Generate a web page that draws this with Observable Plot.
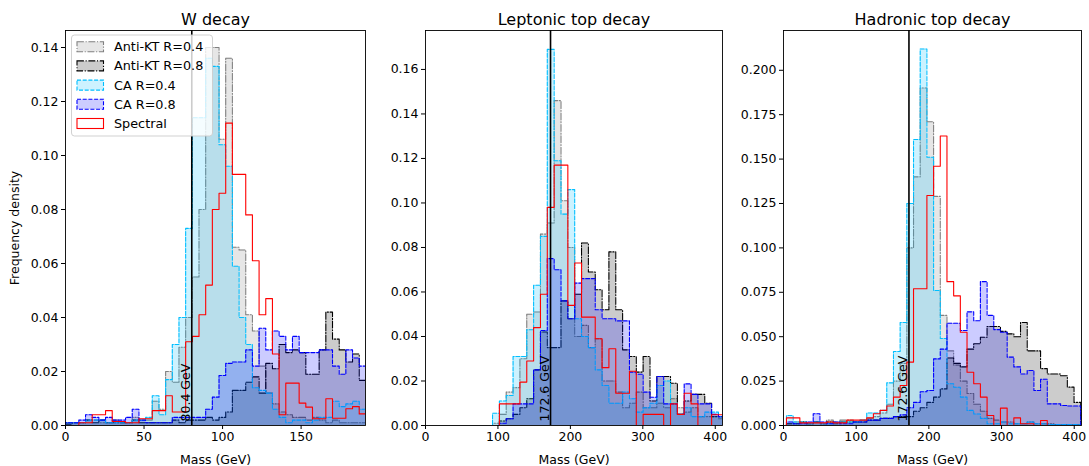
<!DOCTYPE html>
<html><head><meta charset="utf-8">
<script src="https://cdn.jsdelivr.net/npm/d3@7"></script>
<script src="https://cdn.jsdelivr.net/npm/@observablehq/plot@0.6"></script>
<style>
body{margin:0;background:#fff;}
#wrap{position:relative;width:1089px;height:466px;font-family:"DejaVu Sans",sans-serif;}
#wrap svg{position:absolute;top:0;overflow:visible;}
</style></head><body><div id="wrap"></div>
<script>
const seriesNames = ["Anti-KT R=0.4","Anti-KT R=0.8","CA R=0.4","CA R=0.8","Spectral"];
const panelTitles = ["W decay","Leptonic top decay","Hadronic top decay"];
const refMasses = [80.4, 172.6, 172.6];
const refLabels = ["80.4 GeV","172.6 GeV","172.6 GeV"];
const axisXLabel = "Mass (GeV)";
const axisYLabel = "Frequency density";

// W decay
const wEdges = [0,4.25,8.5,12.75,17,21.25,25.5,29.75,34,38.25,42.5,46.75,51,55.25,59.5,63.75,68,72.25,76.5,80.75,85,89.25,93.5,97.75,102,106.25,110.5,114.75,119,123.25,127.5,131.75,136,140.25,144.5,148.75,153,157.25,161.5,165.75,170,174.25,178.5,182.75,187,191.25];
const wAKT04 = [0.001,0.001,0.001,0.002,0.002,0.001,0.001,0.002,0.001,0.001,0.003,0.002,0.002,0.009,0.006,0.020,0.016,0.029,0.040,0.055,0.080,0.140,0.140,0.106,0.136,0.066,0.065,0.041,0.035,0.022,0.012,0.008,0.005,0.004,0.003,0.003,0.002,0.003,0.002,0.001,0.002,0.001,0.001,0.001,0.001];
const wAKT08 = [0.0005,0.001,0.001,0.002,0.001,0.002,0.001,0.001,0.001,0.001,0.002,0.001,0.001,0.001,0.001,0.001,0.002,0.001,0.002,0.002,0.002,0.003,0.002,0.003,0.005,0.013,0.013,0.016,0.018,0.012,0.023,0.021,0.030,0.027,0.028,0.027,0.019,0.019,0.028,0.042,0.032,0.028,0.0235,0.0265,0.0167];
const wCA04 = [0.001,0.001,0.001,0.002,0.002,0.002,0.001,0.001,0.001,0.001,0.002,0.002,0.003,0.011,0.004,0.017,0.030,0.040,0.073,0.114,0.114,0.136,0.133,0.104,0.096,0.059,0.040,0.030,0.014,0.013,0.012,0.006,0.003,0.001,0.002,0.002,0.001,0.002,0.003,0.003,0.009,0.007,0.008,0.009,0.006];
const wCA08 = [0.001,0.001,0.002,0.004,0.003,0.002,0.003,0.002,0.002,0.003,0.006,0.002,0.001,0.001,0.001,0.001,0.003,0.003,0.003,0.003,0.003,0.006,0.0105,0.0185,0.023,0.0235,0.0235,0.028,0.022,0.036,0.028,0.035,0.033,0.028,0.033,0.027,0.027,0.027,0.028,0.028,0.022,0.019,0.028,0.025,0.022];
const wSpec = [0,0,0.001,0.001,0.004,0.004,0.0055,0.0015,0.0015,0.001,0.001,0.0025,0.0025,0.0055,0.0055,0.011,0.005,0.005,0.031,0.033,0.041,0.052,0.080,0.086,0.112,0.093,0.093,0.078,0.061,0.041,0.047,0.0265,0.004,0.0157,0.0157,0.0083,0.0068,0.0025,0.0025,0.0099,0.0027,0.0027,0.0062,0.007,0.0043];

// Leptonic top decay
const lEdges = [7.5,16.95,26.4,35.85,45.3,54.75,64.2,73.65,83.1,92.55,102,111.45,120.9,130.35,139.8,149.25,158.7,168.15,177.6,187.05,196.5,205.95,215.4,224.85,234.3,243.75,253.2,262.65,272.1,281.55,291,300.45,309.9,319.35,328.8,338.25,347.7,357.15,366.6,376.05,385.5,394.95,404.4,413.85];
const lAKT04 = [0,0,0,0,0,0,0,0,0,0.001,0.005,0.015,0.017,0.030,0.050,0.051,0.086,0.091,0.146,0.101,0.080,0.040,0.045,0.035,0.039,0.020,0.020,0.015,0.008,0.010,0.015,0.008,0.008,0.010,0.008,0.012,0.008,0.006,0.008,0.004,0.004,0.004,0.003];
const lAKT08 = [0,0,0,0,0,0,0,0,0,0,0.002,0.003,0.005,0.008,0.012,0.025,0.042,0.035,0.035,0.056,0.048,0.059,0.082,0.069,0.061,0.052,0.078,0.052,0.034,0.031,0.024,0.031,0.011,0.022,0.022,0.019,0.005,0.011,0.014,0.014,0.010,0.004,0.004];
const lCA04 = [0,0,0,0,0,0,0,0,0,0.0055,0.011,0.0135,0.031,0.031,0.043,0.063,0.085,0.169,0.119,0.095,0.106,0.048,0.040,0.035,0.025,0.018,0.010,0.010,0.015,0.012,0.006,0.008,0.010,0.018,0.020,0.010,0.005,0.008,0.004,0.004,0.006,0.006,0.004];
const lCA08 = [0,0,0,0,0,0,0,0,0,0,0.001,0.003,0.0097,0.0097,0.0097,0.025,0.0427,0.075,0.070,0.056,0.048,0.064,0.066,0.066,0.052,0.048,0.048,0.047,0.047,0.024,0.023,0.015,0.0127,0.022,0.0097,0.0097,0.005,0.0187,0.014,0.0097,0.0097,0.005,0.004];
const lSpec = [0,0,0,0,0,0,0,0,0,0,0.0097,0.0097,0.0097,0.0195,0.029,0.044,0.059,0.098,0.117,0.117,0.054,0.073,0.0487,0.0487,0.039,0.026,0.0345,0.0145,0.0145,0.0244,0,0.005,0.005,0.005,0,0.0097,0.005,0.0145,0.0097,0,0,0.0048,0.0048];

// Hadronic top decay
const hEdges = [4.1,13.3,22.5,31.7,40.9,50.1,59.3,68.5,77.7,86.9,96.1,105.3,114.5,123.7,132.9,142.1,151.3,160.5,169.7,178.9,188.1,197.3,206.5,215.7,224.9,234.1,243.3,252.5,261.7,270.9,280.1,289.3,298.5,307.7,316.9,326.1,335.3,344.5,353.7,362.9,372.1,381.3,390.5,399.7,408.9];
const hAKT04 = [0.001,0.002,0.002,0.001,0.002,0.001,0.003,0.002,0.003,0.003,0.002,0.003,0.004,0.005,0.007,0.012,0.025,0.035,0.100,0.140,0.190,0.171,0.129,0.062,0.042,0.034,0.025,0.018,0.012,0.008,0.004,0.003,0.002,0.002,0.001,0.001,0.002,0.001,0.001,0.001,0.0005,0.0005,0.0005,0.0005];
const hAKT08 = [0.001,0.001,0.002,0.001,0.002,0.001,0.002,0.001,0.002,0.002,0.002,0.002,0.003,0.003,0.004,0.004,0.005,0.005,0.005,0.008,0.010,0.013,0.016,0.0206,0.038,0.035,0.033,0.043,0.046,0.0497,0.0557,0.0557,0.053,0.0516,0.050,0.058,0.042,0.042,0.032,0.029,0.029,0.028,0.0216,0.013];
const hCA04 = [0.0056,0.002,0.002,0.001,0.002,0.001,0.001,0.0015,0.002,0.002,0.002,0.003,0.007,0.007,0.0085,0.024,0.0417,0.058,0.125,0.161,0.212,0.151,0.076,0.049,0.0235,0.0215,0.016,0.0085,0.0065,0.004,0.001,0.001,0.002,0.001,0.001,0.001,0.002,0.001,0.001,0.0005,0.0005,0.0005,0.0005,0.0005];
const hCA08 = [0.002,0.001,0.001,0.002,0.0066,0.002,0.001,0.002,0.001,0.001,0.002,0.002,0.003,0.003,0.004,0.004,0.005,0.006,0.010,0.013,0.019,0.0197,0.0375,0.043,0.0576,0.0576,0.0535,0.064,0.059,0.081,0.062,0.054,0.0525,0.0385,0.033,0.029,0.031,0.0197,0.026,0.0122,0.0122,0.0113,0.011,0.011];
const hSpec = [0.0043,0.0043,0.0015,0.0015,0.0015,0.0015,0.002,0.0015,0.0015,0.003,0.003,0.003,0.0043,0.0066,0.0085,0.011,0.016,0.0225,0.0357,0.077,0.077,0.1295,0.146,0.163,0.081,0.073,0.0525,0.030,0.0235,0.016,0.0056,0,0.0098,0,0.0043,0.001,0.001,0,0.0028,0,0,0,0,0];

const wXTicks = [0,50,100,150];
const tXTicks = [0,100,200,300,400];
const wYTicks = [0,0.02,0.04,0.06,0.08,0.10,0.12,0.14];
const lYTicks = [0,0.02,0.04,0.06,0.08,0.10,0.12,0.14,0.16];
const hYTicks = [0,0.025,0.05,0.075,0.10,0.125,0.15,0.175,0.20];

const seriesStyles = [
  {color:"grey", dash:"6.9,1.7,1.1,1.7", fill:true},
  {color:"black", dash:"6.9,1.7,1.1,1.7", fill:true},
  {color:"deepskyblue", dash:"4,1.7", fill:true},
  {color:"blue", dash:"4,1.7", fill:true},
  {color:"red", dash:null, fill:false}
];

function stepPoints(edges, vals){
  const pts = [{x:edges[0], y:0}];
  vals.forEach((v,i)=>pts.push({x:edges[i], y:v}));
  pts.push({x:edges[vals.length], y:0});
  return pts;
}

const panels = [
  {left:0, width:370, ml:65, mr:5, xdom:[0,191], ydom:[0,0.1463], xt:wXTicks, yt:wYTicks, fmt:".2f",
   edges:wEdges, series:[wAKT04,wAKT08,wCA04,wCA08,wSpec]},
  {left:380, width:345, ml:45, mr:3, xdom:[0,410], ydom:[0,0.1775], xt:tXTicks, yt:lYTicks, fmt:".2f",
   edges:lEdges, series:[lAKT04,lAKT08,lCA04,lCA08,lSpec]},
  {left:740, width:349, ml:43, mr:8, xdom:[0,410], ydom:[0,0.2224], xt:tXTicks, yt:hYTicks, fmt:".3f",
   edges:hEdges, series:[hAKT04,hAKT08,hCA04,hCA08,hSpec]}
];

const wrap = document.getElementById("wrap");
panels.forEach((p, pi) => {
  const marks = [];
  p.series.forEach((vals, i) => {
    const st = seriesStyles[i];
    const pts = stepPoints(p.edges, vals);
    if (st.fill) marks.push(Plot.areaY(pts, {x:"x", y:"y", curve:"step-after", fill:st.color, fillOpacity:0.2, clip:true}));
    marks.push(Plot.lineY(pts, {x:"x", y:"y", curve:"step-after", stroke:st.color, strokeWidth:1.1, strokeDasharray:st.dash, clip:true}));
  });
  marks.push(Plot.ruleX([refMasses[pi]], {stroke:"black", strokeWidth:1.6}));
  marks.push(Plot.text([refMasses[pi]], {x:d=>d, frameAnchor:"bottom", text:()=>refLabels[pi], rotate:-90, textAnchor:"start", lineAnchor:"middle", dy:-4, dx:-6, fontSize:12.5, fill:"black"}));
  marks.push(Plot.text([panelTitles[pi]], {frameAnchor:"top", dy:-17, fontSize:16, fill:"black"}));
  marks.push(Plot.axisX({ticks:p.xt, tickSize:4, tickPadding:3, label:axisXLabel, labelAnchor:"center", labelArrow:"none", labelOffset:38}));
  marks.push(Plot.axisY({ticks:p.yt, tickFormat:d3.format(p.fmt), tickSize:4, tickPadding:3,
    label: pi===0 ? axisYLabel : null, labelAnchor:"center", labelArrow:"none", labelOffset:55}));
  marks.push(Plot.frame({stroke:"black", strokeWidth:0.9}));
  const svg = Plot.plot({
    width:p.width, height:466, marginLeft:p.ml, marginRight:p.mr, marginTop:30, marginBottom:41,
    x:{domain:p.xdom}, y:{domain:p.ydom},
    style:{fontFamily:"DejaVu Sans", fontSize:"12.5px", color:"black", background:"transparent", overflow:"visible"},
    marks
  });
  svg.style.left = p.left + "px";
  wrap.appendChild(svg);

  if (pi === 0) {
    const g = d3.select(svg).append("g").attr("font-family","DejaVu Sans").attr("font-size","12.8px").attr("text-anchor","start");
    g.append("rect").attr("x",71.5).attr("y",35).attr("width",141).attr("height",101).attr("rx",3)
      .attr("fill","white").attr("fill-opacity",0.8).attr("stroke","#cccccc").attr("stroke-width",0.9);
    seriesNames.forEach((name, i) => {
      const st = seriesStyles[i];
      const cy = 46.7 + 19.2*i;
      g.append("rect").attr("x",77).attr("y",cy-5).attr("width",26.5).attr("height",10)
        .attr("fill", st.fill ? st.color : "none").attr("fill-opacity", st.fill ? 0.2 : 0)
        .attr("stroke", st.color).attr("stroke-width",1.1).attr("stroke-dasharray", st.dash);
      g.append("text").attr("x",114).attr("y",cy).attr("dy","0.35em").attr("text-anchor","start").attr("fill","black").text(name);
    });
  }
});
</script></body></html>
